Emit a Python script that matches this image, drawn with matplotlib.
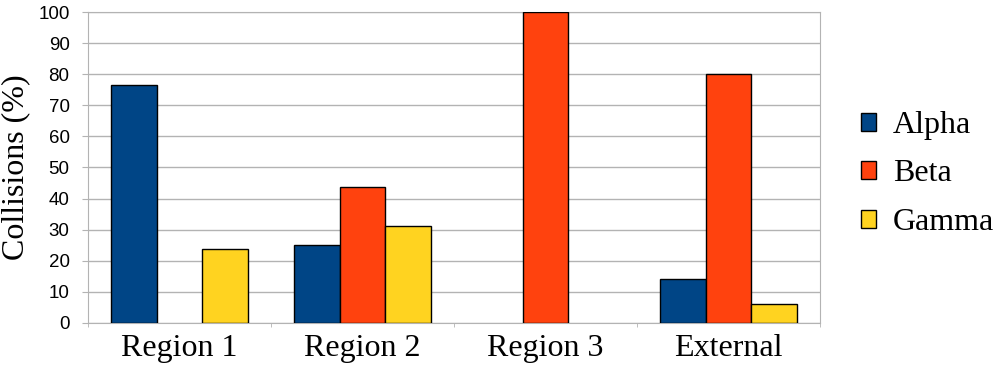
import matplotlib.pyplot as plt
import numpy as np

# Dane
categories = ['Region 1', 'Region 2', 'Region 3', 'External']
series = ['Alpha', 'Beta', 'Gamma']
alpha_vals = [76.4, 25.0, 0, 14.0]
beta_vals = [0, 43.8, 100, 80.0]
gamma_vals = [23.7, 31.3, 0, 6.0]
colors = ['#004586', '#ff420e', '#ffd320']

fig = plt.figure(figsize=(9.98, 3.67), dpi=100)
ax = fig.add_axes([0.0882, 0.1199, 0.7334, 0.8474])

x = np.arange(len(categories))
w = 0.25
handles = []
for i, (vals, name, c) in enumerate(zip([alpha_vals, beta_vals, gamma_vals], series, colors)):
    v = np.array(vals, dtype=float)
    v[v == 0] = np.nan  # brak słupka dla zera
    b = ax.bar(x + (i - 1) * w, v, w, color=c, edgecolor='black', linewidth=1.0,
               label=name, zorder=3)
    handles.append(b)

ax.set_xlim(-0.5, len(categories) - 0.5)
ax.set_ylim(0, 100)
ax.set_yticks(np.arange(0, 101, 10))
ax.grid(axis='y', color='#b3b3b3', linewidth=1.0, zorder=0)
ax.set_xticks(x)
ax.set_xticklabels(categories, family='Liberation Serif', fontsize=23)
ax.set_xticks(np.arange(-0.5, len(categories), 1), minor=True)
ax.tick_params(axis='x', which='major', length=0, pad=8)
ax.tick_params(axis='x', which='minor', length=3, color='#b3b3b3')
ax.tick_params(axis='y', length=4.3, color='#b3b3b3', pad=9)
for lbl in ax.get_yticklabels():
    lbl.set_family('Liberation Sans')
    lbl.set_fontsize(13.5)
for s in ax.spines.values():
    s.set_color('#b3b3b3')
ax.set_ylabel('Collisions (%)', family='Liberation Serif', fontsize=23)
ax.yaxis.set_label_coords(-0.079, 0.5)

fig.legend(handles=handles, labels=series, loc='center left', bbox_to_anchor=(0.8627, 0.5259),
           frameon=False, prop={'family': 'Liberation Serif', 'size': 23}, borderpad=0,
           borderaxespad=0, handlelength=0.47, handleheight=0.5, handletextpad=0.53,
           labelspacing=0.61)

fig.savefig('out.png', dpi=100)
